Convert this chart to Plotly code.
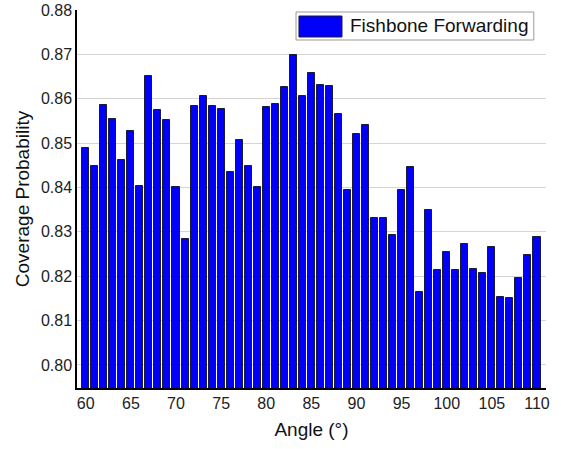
import plotly.graph_objects as go

angles = list(range(60, 111))
coverage = [
    0.8489, 0.8449, 0.8587, 0.8555, 0.8461, 0.8527, 0.8404, 0.8652, 0.8575, 0.8551,
    0.8401, 0.8283, 0.8584, 0.8607, 0.8584, 0.8576, 0.8434, 0.8506, 0.8449, 0.8401,
    0.8582, 0.8589, 0.8626, 0.8698, 0.8607, 0.8659, 0.8631, 0.8629, 0.8566, 0.8395,
    0.8521, 0.8541, 0.8331, 0.8331, 0.8293, 0.8394, 0.8446, 0.8164, 0.8350, 0.8213,
    0.8255, 0.8213, 0.8273, 0.8217, 0.8208, 0.8266, 0.8154, 0.8150, 0.8197, 0.8248,
    0.8289,
]
series_name = "Fishbone Forwarding"
y_ticks = [0.80, 0.81, 0.82, 0.83, 0.84, 0.85, 0.86, 0.87, 0.88]
x_ticks = [60, 65, 70, 75, 80, 85, 90, 95, 100, 105, 110]

bar_color = "#0000FA"
edge_color = "#1a1a3a"

fig = go.Figure()
fig.add_trace(go.Bar(
    x=angles, y=coverage, name=series_name,
    marker=dict(color=bar_color, line=dict(color=edge_color, width=1)),
    width=0.78, showlegend=False,
))

# Legend drawn as a boxed swatch + label (matches the wide swatch of the original)
fig.add_shape(type="rect", xref="paper", yref="paper",
              x0=0.467, x1=0.974, y0=0.9206, y1=0.9947,
              line=dict(color="#999", width=1), fillcolor="white", layer="above")
fig.add_shape(type="rect", xref="paper", yref="paper",
              x0=0.4733, x1=0.565, y0=0.9286, y1=0.9841,
              line=dict(color=edge_color, width=1), fillcolor=bar_color, layer="above")
fig.add_annotation(xref="paper", yref="paper", x=0.5778, y=0.9577,
                   xanchor="left", yanchor="middle", showarrow=False,
                   text=series_name, font=dict(size=19, color="#111"))

font_family = "Liberation Sans, Arial, sans-serif"
fig.update_layout(
    width=561, height=449,
    margin=dict(l=77, r=15, t=10, b=61),
    plot_bgcolor="white", paper_bgcolor="white",
    font=dict(family=font_family, size=16, color="#222"),
    bargap=0,
    showlegend=False,
    xaxis=dict(
        range=[59.03, 111.0], tickvals=x_ticks, ticktext=[str(v) for v in x_ticks],
        showgrid=False, showline=True, linecolor="black", linewidth=1.5,
        ticks="", zeroline=False, automargin=False,
        title=dict(text="Angle (°)", font=dict(size=19, color="#111"), standoff=12),
        tickfont=dict(size=16),
    ),
    yaxis=dict(
        range=[0.7948, 0.88], tickvals=y_ticks, ticktext=[f"{v:.2f}" for v in y_ticks],
        showgrid=True, gridcolor="#d4d4d4", gridwidth=1,
        showline=True, linecolor="black", linewidth=1.5,
        ticks="", zeroline=False, automargin=False,
        title=dict(text="Coverage Probability", font=dict(size=19, color="#111"), standoff=6),
        tickfont=dict(size=16),
    ),
)

fig.write_html("out.html", config={"displayModeBar": False},
               post_script="document.body.style.margin='0px';")
